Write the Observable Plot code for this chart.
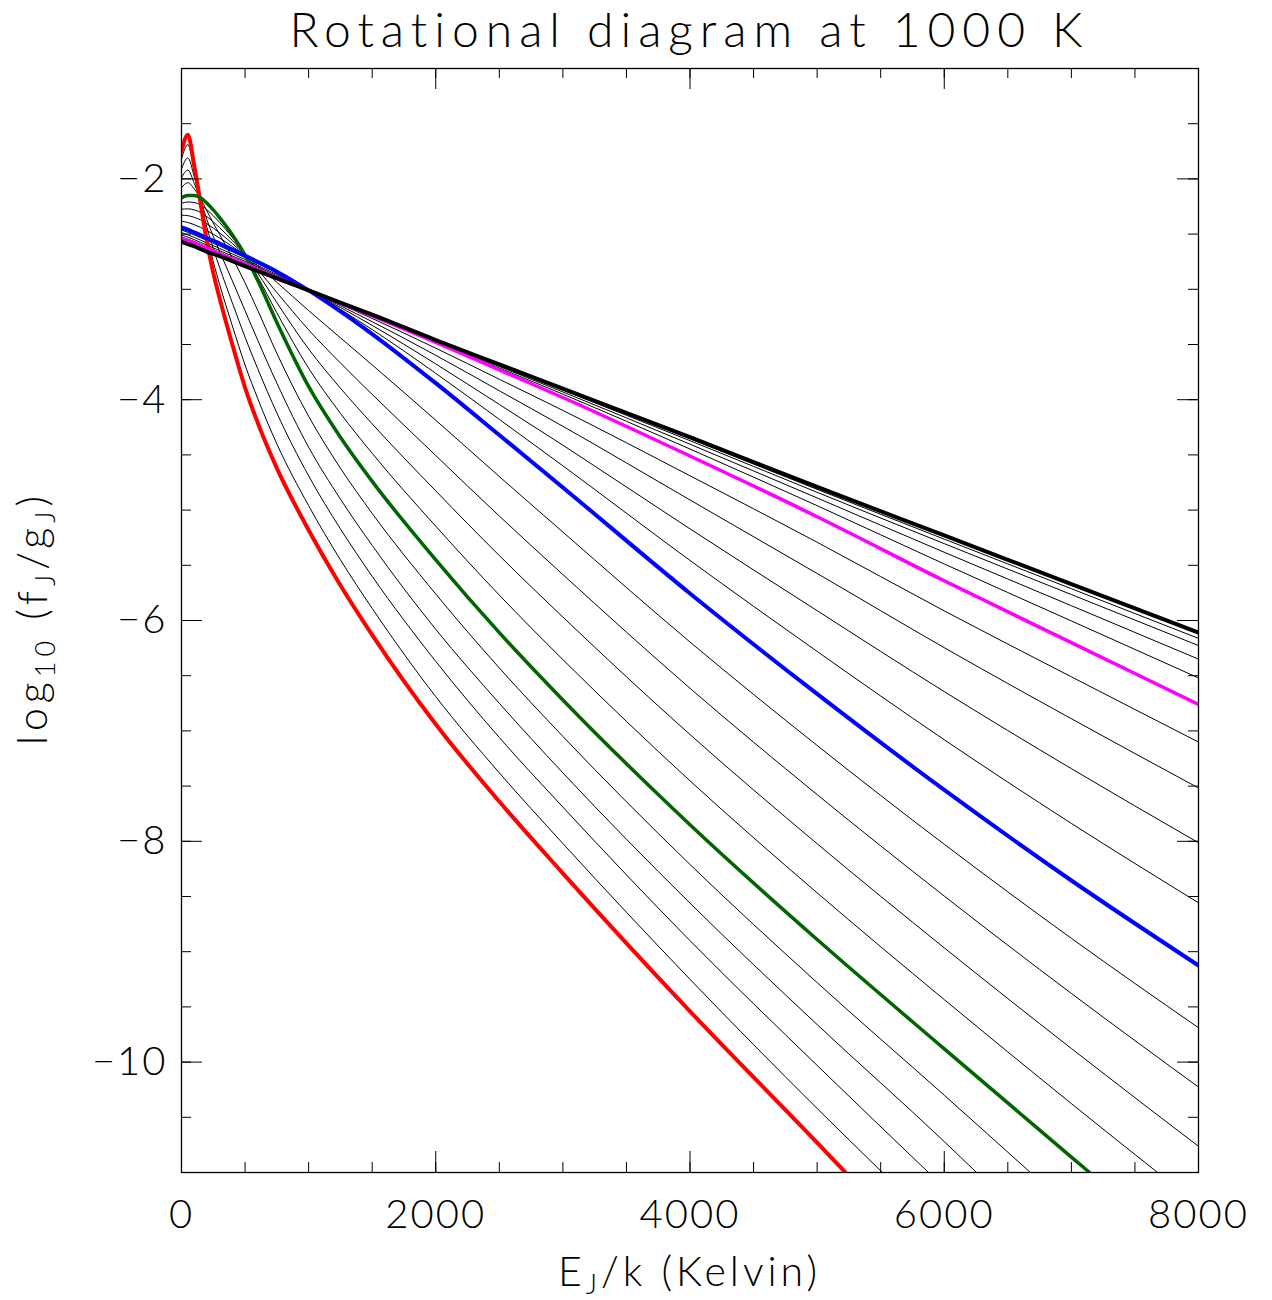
<!DOCTYPE html>
<html>
<head>
<meta charset="utf-8">
<script src="https://cdn.jsdelivr.net/npm/d3@7"></script>
<script src="https://cdn.jsdelivr.net/npm/@observablehq/plot@0.6"></script>
<style>
  html, body { margin: 0; padding: 0; background: #fff; }
  #chart svg { display: block; }
</style>
</head>
<body>
<div id="chart"></div>
<script>
// ---- data ----
const energies = [0, 50, 100, 150, 200, 250, 300, 400, 500, 600, 750, 1000, 1250, 1500, 2000, 2500, 3000, 4000, 5000, 6000, 7000, 8000];

const red     = [-1.75, -1.60, -1.88, -2.22, -2.57, -2.85, -3.08, -3.50, -3.89, -4.21, -4.62, -5.18, -5.68, -6.13, -6.94, -7.64, -8.29, -9.54, -10.73];
const thinA1  = [-1.82, -1.69, -1.93, -2.21, -2.51, -2.75, -2.956, -3.331, -3.686, -3.991, -4.40, -4.96, -5.45, -5.89, -6.69, -7.38, -8.02, -9.25, -10.42];
const thinA2  = [-1.91, -1.81, -1.98, -2.20, -2.44, -2.63, -2.803, -3.122, -3.434, -3.72, -4.12, -4.69, -5.17, -5.60, -6.37, -7.06, -7.69, -8.90, -10.03];
const thinA3  = [-1.99, -1.92, -2.04, -2.19, -2.37, -2.52, -2.657, -2.923, -3.194, -3.462, -3.85, -4.43, -4.90, -5.32, -6.08, -6.75, -7.38, -8.56, -9.66, -10.72];
const thinA4  = [-2.08, -2.035, -2.09, -2.18, -2.29, -2.40, -2.503, -2.714, -2.942, -3.191, -3.58, -4.15, -4.62, -5.03, -5.76, -6.43, -7.05, -8.21, -9.28, -10.30];
const green   = [-2.17, -2.15, -2.15, -2.17, -2.22, -2.28, -2.35, -2.505, -2.69, -2.92, -3.30, -3.88, -4.34, -4.74, -5.45, -6.11, -6.72, -7.85, -8.89, -9.88, -10.86];
const thinB1  = [-2.221, -2.209, -2.214, -2.235, -2.28, -2.333, -2.395, -2.531, -2.691, -2.888, -3.213, -3.715, -4.123, -4.486, -5.146, -5.77, -6.354, -7.452, -8.467, -9.434, -10.376];
const thinB2  = [-2.275, -2.271, -2.281, -2.303, -2.343, -2.389, -2.442, -2.558, -2.692, -2.854, -3.121, -3.541, -3.895, -4.219, -4.826, -5.412, -5.969, -7.033, -8.022, -8.965, -9.877, -10.763];
const thinB3  = [-2.329, -2.333, -2.348, -2.371, -2.406, -2.445, -2.489, -2.585, -2.693, -2.821, -3.029, -3.367, -3.667, -3.952, -4.506, -5.054, -5.584, -6.614, -7.577, -8.496, -9.378, -10.226];
const thinB4  = [-2.383, -2.395, -2.415, -2.439, -2.469, -2.501, -2.536, -2.612, -2.694, -2.787, -2.937, -3.193, -3.439, -3.685, -4.186, -4.696, -5.199, -6.195, -7.132, -8.027, -8.879, -9.689];
const blue    = [-2.44, -2.46, -2.485, -2.51, -2.535, -2.56, -2.585, -2.64, -2.695, -2.752, -2.84, -3.01, -3.20, -3.405, -3.85, -4.32, -4.795, -5.755, -6.665, -7.535, -8.355, -9.125];
const thinC1  = [-2.464, -2.484, -2.508, -2.533, -2.558, -2.583, -2.608, -2.66, -2.713, -2.768, -2.853, -3.01, -3.182, -3.365, -3.761, -4.178, -4.599, -5.456, -6.28, -7.08, -7.838, -8.557];
const thinC2  = [-2.487, -2.507, -2.53, -2.555, -2.58, -2.605, -2.63, -2.68, -2.73, -2.784, -2.866, -3.01, -3.165, -3.327, -3.676, -4.043, -4.412, -5.17, -5.911, -6.644, -7.342, -8.013];
const thinC3  = [-2.508, -2.528, -2.55, -2.575, -2.60, -2.625, -2.65, -2.698, -2.746, -2.798, -2.877, -3.01, -3.149, -3.293, -3.598, -3.919, -4.241, -4.908, -5.574, -6.246, -6.89, -7.517];
const thinC4  = [-2.526, -2.546, -2.566, -2.591, -2.616, -2.641, -2.666, -2.713, -2.759, -2.81, -2.887, -3.01, -3.136, -3.264, -3.533, -3.815, -4.097, -4.689, -5.291, -5.913, -6.51, -7.101];
const magenta = [-2.54, -2.56, -2.58, -2.605, -2.63, -2.655, -2.68, -2.725, -2.77, -2.82, -2.895, -3.01, -3.125, -3.24, -3.48, -3.73, -3.98, -4.51, -5.06, -5.64, -6.20, -6.76];
const thinD1  = [-2.551, -2.571, -2.591, -2.616, -2.641, -2.664, -2.687, -2.732, -2.777, -2.826, -2.897, -3.01, -3.123, -3.236, -3.473, -3.712, -3.95, -4.447, -4.96, -5.488, -6.004, -6.52];
const thinD2  = [-2.559, -2.579, -2.599, -2.624, -2.649, -2.671, -2.693, -2.738, -2.783, -2.829, -2.898, -3.01, -3.122, -3.234, -3.467, -3.699, -3.93, -4.403, -4.89, -5.382, -5.866, -6.35];
const thinD3  = [-2.565, -2.585, -2.605, -2.63, -2.655, -2.676, -2.696, -2.741, -2.786, -2.832, -2.899, -3.01, -3.121, -3.232, -3.464, -3.689, -3.914, -4.371, -4.839, -5.304, -5.765, -6.227];
const thinD4  = [-2.568, -2.588, -2.608, -2.633, -2.658, -2.678, -2.698, -2.743, -2.788, -2.834, -2.90, -3.01, -3.12, -3.231, -3.462, -3.684, -3.906, -4.354, -4.812, -5.263, -5.712, -6.162];
const black   = [-2.57, -2.59, -2.61, -2.635, -2.66, -2.68, -2.70, -2.745, -2.79, -2.835, -2.90, -3.01, -3.12, -3.23, -3.46, -3.68, -3.90, -4.34, -4.79, -5.23, -5.67, -6.11];

const curveNames   = ["red","thinA1","thinA2","thinA3","thinA4","green","thinB1","thinB2","thinB3","thinB4","blue",
                      "thinC1","thinC2","thinC3","thinC4","magenta","thinD1","thinD2","thinD3","thinD4","black"];
const curveSeries  = [red,thinA1,thinA2,thinA3,thinA4,green,thinB1,thinB2,thinB3,thinB4,blue,
                      thinC1,thinC2,thinC3,thinC4,magenta,thinD1,thinD2,thinD3,thinD4,black];
// energy where a curve leaves through the bottom of the frame (at exitValue)
const exitEnergies = [5223,5514,5876,6254,6678,7143,7678,null,null,null,null,
                      null,null,null,null,null,null,null,null,null,null];
const exitValue = -11;

const xMajorTicks = [0, 2000, 4000, 6000, 8000];
const xMinorTicks = [0,500,1000,1500,2000,2500,3000,3500,4000,4500,5000,5500,6000,6500,7000,7500,8000];
const yMajorTicks = [-10, -8, -6, -4, -2];
const yMinorTicks = [-10.5,-10,-9.5,-9,-8.5,-8,-7.5,-7,-6.5,-6,-5.5,-5,-4.5,-4,-3.5,-3,-2.5,-2,-1.5];

// ---- build rows ----
const rows = [];
curveSeries.forEach((vals, i) => {
  vals.forEach((v, j) => rows.push({curve: curveNames[i], energy: energies[j], value: v}));
  if (exitEnergies[i] != null) rows.push({curve: curveNames[i], energy: exitEnergies[i], value: exitValue});
});

// ---- layout & styles ----
const W = 1272, H = 1300;
const mL = 181, mR = 74, mT = 68, mB = 128;
const frameW = W - mL - mR, frameH = H - mT - mB;
const FONT = "Lato, 'Liberation Sans', sans-serif";
const highlight = [
  {name: "red",     stroke: "#ff0000", width: 4},
  {name: "green",   stroke: "#006400", width: 3.5},
  {name: "blue",    stroke: "#0000ff", width: 4},
  {name: "magenta", stroke: "#ff00ff", width: 3.5},
  {name: "black",   stroke: "#000000", width: 4}
];
const highlightNames = new Set(highlight.map(h => h.name));
const minusFmt = d => (d < 0 ? "\u2212" : "") + Math.abs(d);

const marks = [
  Plot.line(rows.filter(d => !highlightNames.has(d.curve)), {
    x: "energy", y: "value", z: "curve", stroke: "#000", strokeWidth: 1, curve: "monotone-x", clip: true
  }),
  ...highlight.map(h => Plot.line(rows.filter(d => d.curve === h.name), {
    x: "energy", y: "value", stroke: h.stroke, strokeWidth: h.width, curve: "monotone-x", clip: true
  })),
  // inward ticks on all four sides
  Plot.tickX(xMinorTicks, {x: d => d, insetTop: frameH - 10, stroke: "#000"}),
  Plot.tickX(xMajorTicks, {x: d => d, insetTop: frameH - 21, stroke: "#000"}),
  Plot.tickX(xMinorTicks, {x: d => d, insetBottom: frameH - 10, stroke: "#000"}),
  Plot.tickX(xMajorTicks, {x: d => d, insetBottom: frameH - 21, stroke: "#000"}),
  Plot.tickY(yMinorTicks, {y: d => d, insetRight: frameW - 10, stroke: "#000"}),
  Plot.tickY(yMajorTicks, {y: d => d, insetRight: frameW - 21, stroke: "#000"}),
  Plot.tickY(yMinorTicks, {y: d => d, insetLeft: frameW - 10, stroke: "#000"}),
  Plot.tickY(yMajorTicks, {y: d => d, insetLeft: frameW - 21, stroke: "#000"}),
  Plot.axisX({ticks: xMajorTicks, tickSize: 0, tickPadding: 27, fontSize: 40, tickFormat: d => String(d), label: null}),
  Plot.axisY({ticks: yMajorTicks, tickSize: 0, tickPadding: 14, fontSize: 40, tickFormat: minusFmt, label: null}),
  Plot.frame({stroke: "#000", strokeWidth: 1.3})
];

const chart = Plot.plot({
  width: W, height: H,
  marginLeft: mL, marginRight: mR, marginTop: mT, marginBottom: mB,
  x: {domain: [0, 8000]},
  y: {domain: [-11, -1]},
  style: {fontFamily: FONT, fontWeight: 300, background: "#fff", color: "#000"},
  marks
});

const svg = d3.select(chart);
svg.selectAll("g[aria-label$='tick label'] text").attr("letter-spacing", 2);

// title
svg.append("text")
  .attr("x", mL + frameW / 2).attr("y", 47)
  .attr("text-anchor", "middle")
  .attr("letter-spacing", 7)
  .style("font-family", FONT).style("font-weight", 300).style("font-size", "48px")
  .text("Rotational diagram at 1000 K");

// x label: E_J/k (Kelvin)
const xl = svg.append("text")
  .attr("x", mL + frameW / 2).attr("y", 1286)
  .attr("text-anchor", "middle").attr("letter-spacing", 4)
  .style("font-family", FONT).style("font-weight", 300).style("font-size", "41px");
xl.append("tspan").text("E");
xl.append("tspan").attr("dy", 8).style("font-size", "27px").text("J");
xl.append("tspan").attr("dy", -8).text("/k (Kelvin)");

// y label: log10 (fJ/gJ)
const yl = svg.append("text")
  .attr("transform", `translate(47, ${mT + frameH / 2 - 2}) rotate(-90)`)
  .attr("text-anchor", "middle").attr("letter-spacing", 5)
  .style("font-family", FONT).style("font-weight", 300).style("font-size", "41px");
yl.append("tspan").text("log");
yl.append("tspan").attr("dy", 8).style("font-size", "27px").text("10");
yl.append("tspan").attr("dy", -8).text(" (f");
yl.append("tspan").attr("dy", 8).style("font-size", "27px").text("J");
yl.append("tspan").attr("dy", -8).text("/g");
yl.append("tspan").attr("dy", 8).style("font-size", "27px").text("J");
yl.append("tspan").attr("dy", -8).text(")");

document.getElementById("chart").appendChild(chart);
</script>
</body>
</html>
